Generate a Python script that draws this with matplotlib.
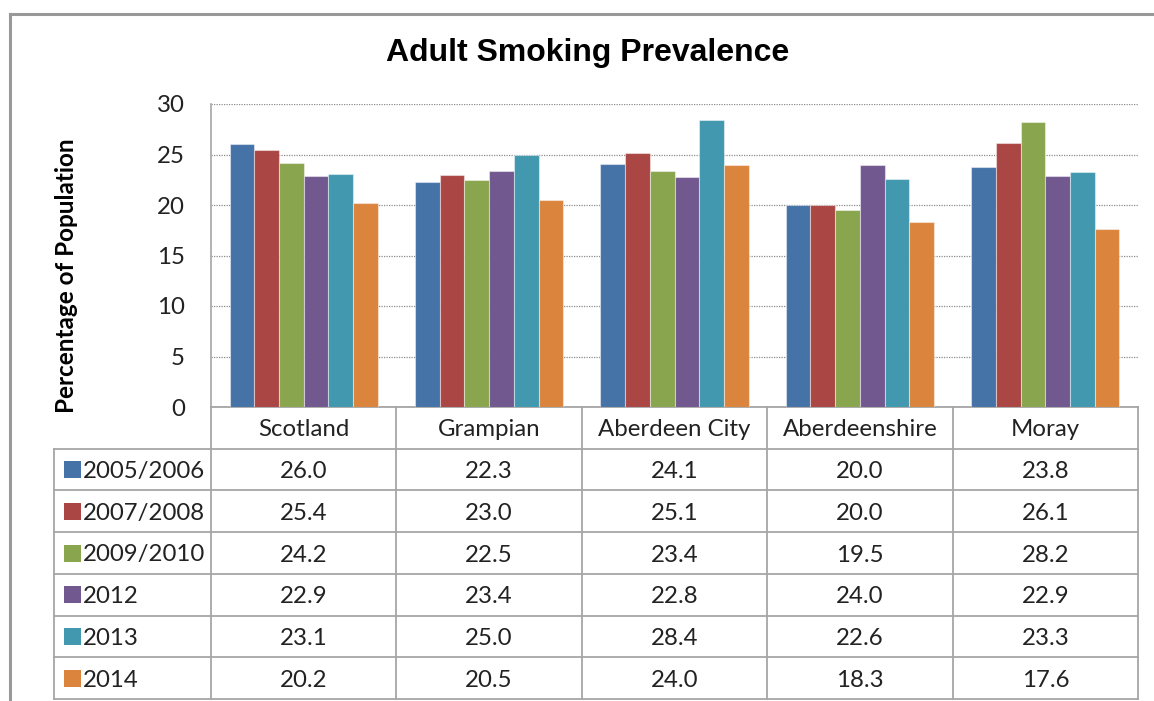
import numpy as np
import matplotlib.pyplot as plt
from matplotlib.patches import Rectangle

# --- data ---
regions = ["Scotland", "Grampian", "Aberdeen City", "Aberdeenshire", "Moray"]
periods = ["2005/2006", "2007/2008", "2009/2010", "2012", "2013", "2014"]
v_2005_06 = [26.0, 22.3, 24.1, 20.0, 23.8]
v_2007_08 = [25.4, 23.0, 25.1, 20.0, 26.1]
v_2009_10 = [24.2, 22.5, 23.4, 19.5, 28.2]
v_2012 = [22.9, 23.4, 22.8, 24.0, 22.9]
v_2013 = [23.1, 25.0, 28.4, 22.6, 23.3]
v_2014 = [20.2, 20.5, 24.0, 18.3, 17.6]
series = [v_2005_06, v_2007_08, v_2009_10, v_2012, v_2013, v_2014]
yticks = [0, 5, 10, 15, 20, 25, 30]

colors = ["#4572A7", "#AA4643", "#89A54E", "#71588F", "#4198AF", "#DB843D"]
GRID = "#A6A6A6"
TXT = "#222222"
FS = 17.3

W, H = 1154, 701
fig = plt.figure(figsize=(W / 100, H / 100), dpi=100)

# pixel layout of the Excel chart
L, R, T, B = 211, 1138, 104, 407
TAB_L = 54
row_h = (699 - B) / 7
row_y = [B + row_h * k for k in range(8)]
dy = 2  # small nudge so text sits like Excel's

# background overlay in pixel coords (frame + data table)
bg = fig.add_axes([0, 0, 1, 1])
bg.set_xlim(0, W)
bg.set_ylim(H, 0)
bg.axis("off")

# outer chart frame
bg.plot([10, W], [14, 14], color="#999999", lw=2.2)
bg.plot([10, 10], [14, H], color="#999999", lw=2.2)

# main bar axes
ax = fig.add_axes([L / W, 1 - B / H, (R - L) / W, (B - T) / H])
ax.set_facecolor("none")
n = len(series)
x = np.arange(len(regions))
w = 1 / (n + 1.5)
for i, (vals, c) in enumerate(zip(series, colors)):
    ax.bar(x + (i - (n - 1) / 2) * w, vals, width=w, color=c,
           edgecolor=(1, 1, 1, 0.45), linewidth=0.8, zorder=3)

ax.set_xlim(-0.5, len(regions) - 0.5)
ax.set_ylim(0, 30)
ax.set_yticks(yticks)
ax.set_yticklabels([str(t) for t in yticks], fontsize=FS, family="Lato", color=TXT)
ax.tick_params(axis="y", length=0, pad=18.7)
ax.set_xticks([])
ax.grid(axis="y", color="#8C8C8C", linestyle=(0, (1, 1)), linewidth=0.9, zorder=0)
for s in ["top", "right", "bottom"]:
    ax.spines[s].set_visible(False)
ax.spines["left"].set_color(GRID)
ax.spines["left"].set_linewidth(1.2)

# data table
col_w = (R - L) / len(regions)
col_x = [L + col_w * k for k in range(len(regions) + 1)]
for k, y in enumerate(row_y):
    x0 = L if k == 0 else TAB_L
    bg.plot([x0, R], [y, y], color=GRID, lw=1.3)
bg.plot([TAB_L, TAB_L], [row_y[1], row_y[-1]], color=GRID, lw=1.3)
for cx in col_x:
    bg.plot([cx, cx], [row_y[0], row_y[-1]], color=GRID, lw=1.3)

for j, name in enumerate(regions):
    bg.text((col_x[j] + col_x[j + 1]) / 2, (row_y[0] + row_y[1]) / 2 + dy, name,
            ha="center", va="center", fontsize=FS, family="Lato", color=TXT)

for i, (lab, vals, c) in enumerate(zip(periods, series, colors)):
    yc = (row_y[i + 1] + row_y[i + 2]) / 2
    bg.add_patch(Rectangle((64, yc - 8.5), 17, 17, facecolor=c, edgecolor="none"))
    bg.text(83, yc + dy, lab, ha="left", va="center", fontsize=FS, family="Lato", color=TXT)
    for j, v in enumerate(vals):
        bg.text((col_x[j] + col_x[j + 1]) / 2, yc + dy, f"{v:.1f}",
                ha="center", va="center", fontsize=FS, family="Lato", color=TXT)

fig.text(588 / W, 1 - 53.5 / H, "Adult Smoking Prevalence", ha="center", va="center",
         fontsize=23, fontweight="bold", family="Liberation Sans", color="black")
fig.text(67 / W, 1 - 276 / H, "Percentage of Population", ha="center", va="center",
         rotation=90, fontsize=17.5, fontweight="bold", family="Lato", color="black")

fig.savefig("out.png", dpi=100)
